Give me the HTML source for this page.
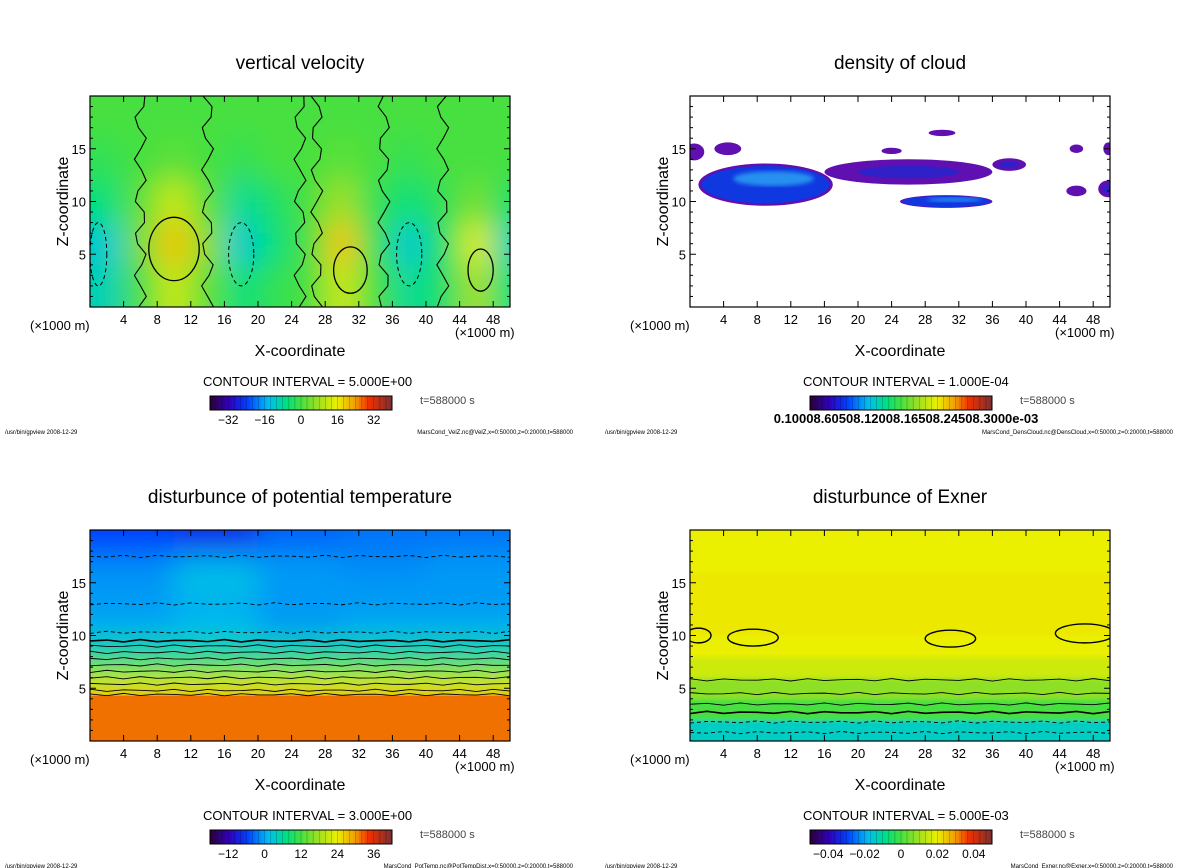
<!DOCTYPE html>
<html><head><meta charset="utf-8"><style>
html,body{margin:0;padding:0;background:#fff;}
svg{display:block;font-family:"Liberation Sans",sans-serif;}
</style></head><body>
<svg id="fig" width="1200" height="868" viewBox="0 0 1200 868" xmlns="http://www.w3.org/2000/svg">
<defs>
<filter id="blur" x="-20%" y="-20%" width="140%" height="140%"><feGaussianBlur stdDeviation="14"/></filter>
<filter id="blur2"><feGaussianBlur stdDeviation="2"/></filter>
</defs>
</svg>
<script>
// ---- data ----
const xTicks=[4,8,12,16,20,24,28,32,36,40,44,48];
const zTicks=[5,10,15];
const velX=[2,6,10,14,18,22,26,30,34,38,42,46,50];
const velZ=[2,6,10,14,18];
const velV=[
[-10,0,12,2,-6,-2,0,12,0,-8,-4,8,-6],
[-12,4,20,6,-12,-6,0,20,-2,-12,-4,14,-10],
[-6,2,12,2,-8,-4,0,8,-2,-6,-2,4,-4],
[-2,0,2,0,-2,0,0,2,0,-2,0,0,0],
[0,0,0,0,0,0,0,0,0,0,0,0,0]];
const velTicks=[-32,-16,0,16,32];
const ptX=[5,15,25,35,45];
const ptZ=[1,3,5,7,9,11,13,15,17,19];
const ptV=[[32,32,32,32,32],[32,32,32,32,32],[24,24,24,24,24],[12,12,12,12,12],[4,4,4,4,4],
[0,1,-1,0,0],[-1,0,-1,-1,-1],[-1,2,-1,-1,-1],[-2,0,-1,-2,-1],[-6,-8,-4,-3,-3]];
const ptTicks=[-12,0,12,24,36];
const exX=[25];
const exZ=[1,3,5,7,9,11,13,15,17,19];
const exV=[[-0.014],[0.0],[0.008],[0.016],[0.02],[0.021],[0.021],[0.021],[0.02],[0.02]];
const exTicks=[-0.04,-0.02,0,0.02,0.04];
const cloudX=[9,26,30.5,0.5,4.5,24,30,46,49.8,46,49.8,38];
const cloudZ=[11.6,12.8,10.0,14.7,15.0,14.8,16.5,15.0,15.0,11.0,11.2,13.5];
const cloudRx=[8,10,5.5,1.2,1.6,1.2,1.6,0.8,0.6,1.2,1.2,2];
const cloudRz=[2.0,1.2,0.6,0.8,0.6,0.3,0.3,0.4,0.6,0.5,0.8,0.6];
const cloudS=[1,0.3,0.6,0.2,0.2,0.2,0.2,0.2,0.2,0.2,0.3,0.3];

const NS="http://www.w3.org/2000/svg";
const svg=document.getElementById('fig');
function el(tag,attrs,parent,text){const e=document.createElementNS(NS,tag);for(const k in attrs)e.setAttribute(k,attrs[k]);if(text!==undefined)e.textContent=text;(parent||svg).appendChild(e);return e;}
const stops=[[0,[42,0,64]],[0.1,[48,0,192]],[0.2,[0,64,255]],[0.32,[0,192,240]],[0.42,[0,224,128]],[0.5,[70,224,64]],[0.6,[160,224,32]],[0.7,[235,240,0]],[0.8,[240,160,0]],[0.88,[240,48,0]],[1,[128,48,48]]];
function cmap(t){t=Math.max(0,Math.min(1,t));for(let i=1;i<stops.length;i++){if(t<=stops[i][0]){const a=stops[i-1],b=stops[i];const f=(t-a[0])/(b[0]-a[0]);const c=a[1].map((v,j)=>Math.round(v+(b[1][j]-v)*f));return `rgb(${c})`;}}return 'rgb(128,48,48)';}

function panel(dx,dy,id,title,opts){
  const L=90+dx,R=510+dx,T=96+dy,B=307+dy;
  const sx=v=>L+(v/50)*(R-L), sz=v=>B-(v/20)*(B-T);
  const g=el('g',{},svg);
  
  
  const t=el('text',{x:(L+R)/2,y:69+dy,'text-anchor':'middle','font-size':19},g,title);
  
  const clip=el('clipPath',{id:'c'+id},g);
  el('rect',{x:L,y:T,width:R-L,height:B-T},clip);
  const plot=el('g',{'clip-path':`url(#c${id})`},g);
  
  opts.draw(plot,sx,sz,L,R,T,B);
  el('rect',{x:L,y:T,width:R-L,height:B-T,fill:'none',stroke:'#000','stroke-width':1.2},g);
  xTicks.forEach(v=>{el('line',{x1:sx(v),x2:sx(v),y1:B,y2:B-6,stroke:'#000'},g);el('line',{x1:sx(v),x2:sx(v),y1:T,y2:T+6,stroke:'#000'},g);
    const tl=el('text',{x:sx(v),y:B+17,'text-anchor':'middle','font-size':13},g,v);});
  for(let v=1;v<20;v++){const len=v%5==0?6:3;el('line',{x1:L,x2:L+len,y1:sz(v),y2:sz(v),stroke:'#000'},g);el('line',{x1:R,x2:R-len,y1:sz(v),y2:sz(v),stroke:'#000'},g);}
  zTicks.forEach(v=>{const tl=el('text',{x:L-4,y:sz(v)+5,'text-anchor':'end','font-size':13},g,v);});
  el('text',{x:30+dx,y:330+dy,'font-size':13},g,'(×1000 m)');
  el('text',{x:455+dx,y:337+dy,'font-size':13},g,'(×1000 m)');
  const xl=el('text',{x:(L+R)/2,y:356+dy,'text-anchor':'middle','font-size':16},g,'X-coordinate');
  const yl=el('text',{x:0,y:0,'text-anchor':'middle','font-size':16,transform:`translate(${68+dx},${(T+B)/2}) rotate(-90)`},g,'Z-coordinate');
  el('text',{x:203+dx,y:386+dy,'font-size':13},g,opts.ci);
  const cb=el('g',{},g);
  const n=60;for(let i=0;i<n;i++){el('rect',{x:210+dx+i*182/n,y:396+dy,width:182/n+0.3,height:14,fill:cmap(i/(n-1))},cb);
    if(i%2==0)el('line',{x1:210+dx+i*182/n,x2:210+dx+i*182/n,y1:396+dy,y2:410+dy,stroke:'#000','stroke-width':0.4,opacity:0.5},cb);}
  el('rect',{x:210+dx,y:396+dy,width:182,height:14,fill:'none',stroke:'#000'},cb);
  opts.cbLabels(cb,v=>210+dx+(v-opts.lo)/(opts.hi-opts.lo)*182,dy);
  el('text',{x:420+dx,y:404+dy,'font-size':11,fill:'#444'},g,'t=588000 s');
  el('text',{x:5+dx,y:434+dy,'font-size':6},g,'/usr/bin/gpview   2008-12-29');
  el('text',{x:573+dx,y:434+dy,'font-size':6,'text-anchor':'end'},g,opts.foot);
}
function grid(plot,X,Z,V,lo,hi,sx,sz,blurId){
  const gg=el('g',{filter:`url(#${blurId||'blur'})`},plot);
  for(let i=0;i<Z.length;i++)for(let j=0;j<X.length;j++){
    const x0=j==0?-10:(X[j-1]+X[j])/2,x1=j==X.length-1?60:(X[j]+X[j+1])/2;
    const z0=i==0?-5:(Z[i-1]+Z[i])/2,z1=i==Z.length-1?25:(Z[i]+Z[i+1])/2;
    const r=el('rect',{x:sx(x0),y:sz(z1),width:sx(x1)-sx(x0)+0.5,height:sz(z0)-sz(z1)+0.5,fill:cmap((V[i][j]-lo)/(hi-lo))},gg);
    
    
  }
}
function hlines(plot,zs,sx,sz,dashFrom){zs.forEach((z,k)=>{let d='';for(let x=0;x<=50;x+=2){d+=(x?'L':'M')+sx(x)+','+(sz(z)+Math.sin(x*1.3+k)*1.2);}el('path',{d,fill:'none',stroke:'#000','stroke-width':z===zs[dashFrom]?1.6:0.9,'stroke-dasharray':k<dashFrom?'4,3':'none'},plot);});}
panel(0,0,'velocity','vertical velocity',{lo:-40,hi:40,ci:'CONTOUR INTERVAL = 5.000E+00',foot:'MarsCond_VelZ.nc@VelZ,x=0:50000,z=0:20000,t=588000',
 draw:(p,sx,sz)=>{grid(p,velX,velZ,velV,-40,40,sx,sz);
   [[10,5.5,3,3],[31,3.5,2,2.2],[46.5,3.5,1.5,2]].forEach(e=>el('ellipse',{cx:sx(e[0]),cy:sz(e[1]),rx:e[2]*8.4,ry:e[3]*10.55,fill:'none',stroke:'#000','stroke-width':1.3},p));
   [[18,5,1.5,3],[38,5,1.5,3],[1,5,1,3]].forEach(e=>el('ellipse',{cx:sx(e[0]),cy:sz(e[1]),rx:e[2]*8.4,ry:e[3]*10.55,fill:'none',stroke:'#000','stroke-dasharray':'4,3'},p));
   [6,14,25,27,35,42].forEach(x=>{let d='';for(let z=0;z<=20;z+=1)d+=(z?'L':'M')+(sx(x)+Math.sin(z*1.7+x)*6)+','+sz(z);el('path',{d,fill:'none',stroke:'#000','stroke-width':1.1},p);});},
 cbLabels:(cb,f,dy)=>velTicks.forEach(v=>el('text',{x:f(v),y:424+dy,'text-anchor':'middle','font-size':12},cb,String(v).replace('-','−')))});
panel(600,0,'cloud','density of cloud',{lo:0,hi:1,ci:'CONTOUR INTERVAL = 1.000E-04',foot:'MarsCond_DensCloud.nc@DensCloud,x=0:50000,z=0:20000,t=588000',
 draw:(p,sx,sz)=>{cloudX.forEach((x,i)=>{
   const c=el('ellipse',{cx:sx(x),cy:sz(cloudZ[i]),rx:cloudRx[i]*8.4,ry:cloudRz[i]*10.55,fill:'#6010b0'},p);
   
   if(cloudS[i]>0.5){el('ellipse',{cx:sx(x),cy:sz(cloudZ[i]),rx:cloudRx[i]*8.4*0.95,ry:cloudRz[i]*10.55*0.88,fill:'#1038e0'},p);
     el('ellipse',{cx:sx(x)+8,cy:sz(cloudZ[i])-cloudRz[i]*3,rx:cloudRx[i]*8.4*0.6,ry:cloudRz[i]*10.55*0.35,fill:'#2890f0',filter:'url(#blur2)'},p);}
   else if(cloudS[i]>0.25){el('ellipse',{cx:sx(x),cy:sz(cloudZ[i]),rx:cloudRx[i]*8.4*0.6,ry:cloudRz[i]*10.55*0.5,fill:'#3020c8'},p);}
 });},
 cbLabels:(cb,f,dy)=>el('text',{x:f(0.5)+5,y:423+dy,'text-anchor':'middle','font-size':13,'font-weight':'bold'},cb,'0.10008.60508.12008.16508.24508.3000e-03')});
panel(0,434,'pottemp','disturbunce of potential temperature',{lo:-18,hi:42,ci:'CONTOUR INTERVAL = 3.000E+00',foot:'MarsCond_PotTemp.nc@PotTempDist,x=0:50000,z=0:20000,t=588000',
 draw:(p,sx,sz)=>{grid(p,ptX,ptZ,ptV,-18,42,sx,sz);
   el('rect',{x:sx(0),y:sz(4.3),width:430,height:60,fill:cmap((32+18)/60)},p);
   hlines(p,[17.5,13,10.3,9.5,9,8.4,7.8,7.2,6.6,6,5.4,4.8,4.4],sx,sz,3);},
 cbLabels:(cb,f,dy)=>ptTicks.forEach(v=>el('text',{x:f(v),y:424+dy,'text-anchor':'middle','font-size':12},cb,String(v).replace('-','−')))});
panel(600,434,'exner','disturbunce of Exner',{lo:-0.05,hi:0.05,ci:'CONTOUR INTERVAL = 5.000E-03',foot:'MarsCond_Exner.nc@Exner,x=0:50000,z=0:20000,t=588000',
 draw:(p,sx,sz)=>{grid(p,exX,exZ,exV,-0.05,0.05,sx,sz,'blur2');
   hlines(p,[0.8,1.8,2.7,3.5,4.5,5.8],sx,sz,2);
   [[1,10,1.5,0.7],[7.5,9.8,3,0.8],[31,9.7,3,0.8],[47,10.2,3.5,0.9]].forEach(e=>el('ellipse',{cx:sx(e[0]),cy:sz(e[1]),rx:e[2]*8.4,ry:e[3]*10.55,fill:'none',stroke:'#000','stroke-width':1.4},p));},
 cbLabels:(cb,f,dy)=>exTicks.forEach(v=>el('text',{x:f(v),y:424+dy,'text-anchor':'middle','font-size':12},cb,String(v).replace('-','−')))});
</script>
</body></html>
